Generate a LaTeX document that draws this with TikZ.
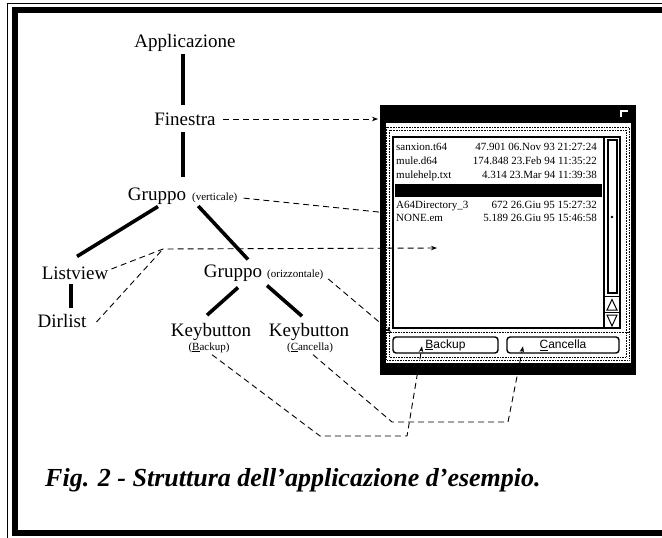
\documentclass[tikz,border=0pt]{standalone}
\usepackage{fontspec}
\setmainfont{Liberation Serif}
\newfontfamily\guisans{Liberation Sans}
\usetikzlibrary{arrows.meta}
\begin{document}
\begin{tikzpicture}[x=1pt,y=-1pt,
 big/.style={font=\fontsize{19}{21}\selectfont, inner sep=0pt},
 small/.style={font=\fontsize{11}{12}\selectfont, inner sep=0pt},
 tree/.style={line width=3.6pt},
 dsh/.style={line width=0.9pt, dash pattern=on 6pt off 4pt},
 arr/.style={-{Stealth[length=6pt,width=4.5pt]}},
 row/.style={font=\fontsize{11}{12}\selectfont, inner sep=0pt},
 btn/.style={draw, line width=1.4pt, rounded corners=3pt, inner sep=0pt,
   minimum height=16pt, font=\guisans\fontsize{12}{13}\selectfont},
 dotf/.style={line width=0.6pt, dash pattern=on 0.8pt off 0.8pt},
]
\useasboundingbox (0,0) rectangle (662,538);
\fill[white] (0,0) rectangle (662,538);
% outer frame
\draw[line width=0.8pt] (662,3.5) -- (7,3.5) -- (7,538);
\fill (12,7) rectangle (662,13);
\fill (12,7) rectangle (18,536);
\fill (12,530) rectangle (662,536);

% window
\fill (380,105) rectangle (636,375);
\fill[white] (386,123) rectangle (631,363);
\draw[white, line width=2pt] (621,117) -- (621,111) -- (628,111);
\draw[dotf] (386.5,127) rectangle (629,360);
\draw[dotf] (389.5,130) rectangle (626,357);
\draw[dotf] (386.5,332.5) -- (629,332.5);
\draw[line width=1.3pt] (393,137) rectangle (620,328);
\draw[line width=1.3pt] (604,137) -- (604,328);
\draw[line width=1.1pt] (608,140) rectangle (617,293);
\draw[line width=1.1pt] (604,296.5) -- (620,296.5) (604,312.5) -- (620,312.5);
\draw[line width=1pt] (607,310) -- (617,310) -- (612,299.5) -- cycle;
\draw[line width=1pt] (607,315) -- (617,315) -- (612,326) -- cycle;
\fill (612,217) circle (1.3);
\fill (395,184) rectangle (602,197);
% rows
\node[row, anchor=base west] (n1) at (396,150.5) {sanxion.t64};
\node[row, anchor=base east] (d1) at (597,150.5) {47.901 06.Nov 93 21:27:24};
\node[row, anchor=base west] (n2) at (396,164.5) {mule.d64};
\node[row, anchor=base east] (d2) at (597,164.5) {174.848 23.Feb 94 11:35:22};
\node[row, anchor=base west] (n3) at (396,178.5) {mulehelp.txt};
\node[row, anchor=base east] (d3) at (597,178.5) {4.314 23.Mar 94 11:39:38};
\node[row, anchor=base west] (n5) at (396,208.5) {A64Directory\_3};
\node[row, anchor=base east] (d5) at (597,208.5) {672 26.Giu 95 15:27:32};
\node[row, anchor=base west] (n6) at (396,221.5) {NONE.em};
\node[row, anchor=base east] (d6) at (597,221.5) {5.189 26.Giu 95 15:46:58};
% buttons
\node[btn, minimum width=105pt] (bb) at (445.5,345) {\underline{B}ackup};
\node[btn, minimum width=112pt] (bc) at (563,345) {\underline{C}ancella};

% tree nodes
\node[big] (app) at (185,43) {Applicazione};
\node[big] (fin) at (185,119) {Finestra};
\node[big] (gv) at (157,196) {Gruppo};
\node[small, anchor=west] (gvl) at (192,197.5) {(verticale)};
\node[big] (lv) at (75,273) {Listview};
\node[big] (go) at (233,273) {Gruppo};
\node[small, anchor=west] (gol) at (267,275) {(orizzontale)};
\node[big] (dl) at (62,321) {Dirlist};
\node[big] (kb1) at (211,332) {Keybutton};
\node[small] (kb1l) at (209,347.5) {(\underline{B}ackup)};
\node[big] (kb2) at (309,332) {Keybutton};
\node[small] (kb2l) at (310,347.5) {(\underline{C}ancella)};

% tree connectors
\draw[tree] ([xshift=-2pt,yshift=-2.5pt]app.south) -- ([xshift=-2pt,yshift=7pt]fin.north);
\draw[tree] ([xshift=-2pt,yshift=-6pt]fin.south) -- ([xshift=-2pt]fin.south |- 0,177);
\draw[tree] ([xshift=1pt,yshift=-2pt]gv.south) -- ([xshift=2pt,yshift=10pt]lv.north);
\draw[tree] ([xshift=12pt,yshift=-1.5pt]gv.south east) -- ([xshift=15pt,yshift=5pt]go.north);
\draw[tree] ([xshift=-4pt,yshift=-4pt]lv.south) -- ([xshift=9pt,yshift=6pt]dl.north);
\draw[tree] ([xshift=5pt,yshift=-6pt]go.south) -- ([xshift=-4pt,yshift=8pt]kb1.north);
\draw[tree] ([xshift=34pt,yshift=-4pt]go.south) -- ([xshift=-7pt,yshift=7pt]kb2.north);

% dashed connectors
\coordinate (tfin) at (378,119);
\coordinate (tgv) at (388,213);
\coordinate (j) at (163,249);
\coordinate (tlv) at (437,248);
\coordinate (tgo) at (391,332);
\coordinate (f1) at (320,436);
\coordinate (f2) at (407,436);
\coordinate (g1) at (392,422);
\coordinate (g2) at (508,422);
\draw[dsh, arr, shorten <=7pt] (fin.east) -- (tfin);
\draw[dsh, arr, shorten <=6pt] (gvl.east) -- (tgv);
\draw[dsh, arr] ([xshift=3pt,yshift=4pt]lv.east) -- (j) -- (tlv);
\draw[dsh] ([xshift=10pt,yshift=-1pt]dl.east) -- (j);
\draw[dsh, arr, shorten <=6pt] (gol.east) -- (tgo);
\draw[dsh, arr] ([xshift=3pt,yshift=-2pt]kb1l.south) -- (f1) -- (f2) -- ([xshift=-23.5pt,yshift=-10pt]bb.north);
\draw[dsh, arr] ([xshift=3pt,yshift=-2pt]kb2l.south) -- (g1) -- (g2) -- ([xshift=-40pt,yshift=-10pt]bc.north);

% caption
\node[anchor=base west, inner sep=0pt, font=\fontsize{26}{28}\selectfont\bfseries\itshape] (cap) at (45,486) {Fig. 2 - Struttura dell’applicazione d’esempio.};
\end{tikzpicture}
\end{document}
